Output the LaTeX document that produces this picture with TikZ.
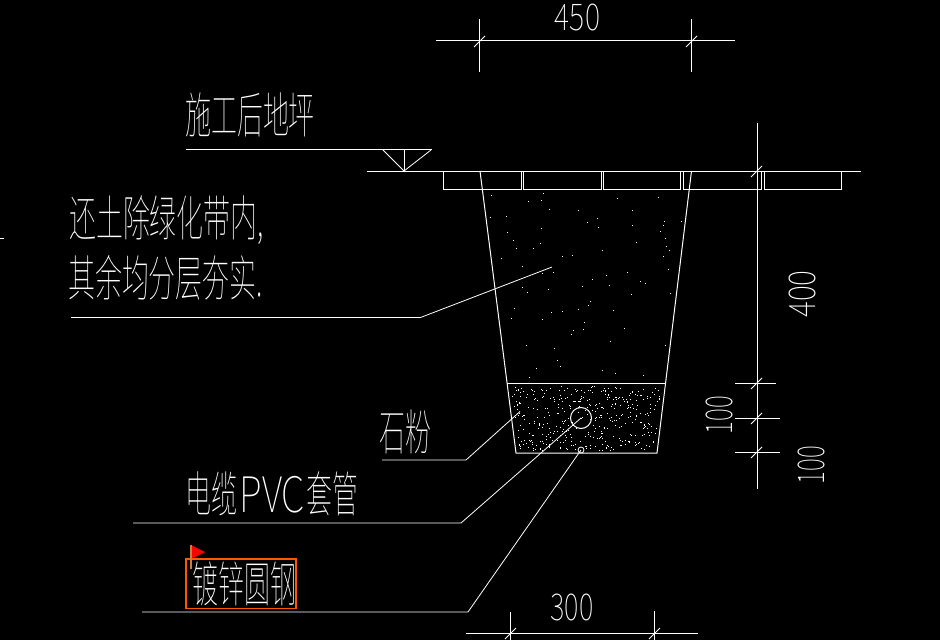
\documentclass[tikz,border=0pt]{standalone}
\usepackage{fontspec}
\newfontfamily\cadfont{Noto Sans CJK SC Thin}
\tikzset{
  x=1pt,y=-1pt,
  cadline/.style={draw=white,line width=1pt},
  soft/.style={draw=white,line width=0.8pt},
  cadtext/.style={text=white,inner sep=0pt,font=\cadfont\fontsize{49}{49}\selectfont,anchor=west},
  cadnum/.style={text=white,inner sep=0pt,font=\cadfont\fontsize{37}{37}\selectfont},
}
\begin{document}
\begin{tikzpicture}
\useasboundingbox (0,0) rectangle (940,640);
\fill[black] (0,0) rectangle (940,640);
% ground and bricks
\draw[cadline] (367,171) -- (861,171);
\foreach \a/\b in {443/521,523/601.5,603/680.5,683/761.5,764/841.5}
  \draw[cadline] (\a,171) rectangle (\b,189.5);
% trench
\coordinate (tl) at (480,171);
\coordinate (tr) at (691.5,171);
\coordinate (bl) at (516,453);
\coordinate (br) at (657,453);
\draw[cadline] (tl) -- (bl) -- (br) -- (tr);
\draw[cadline] (507,383) -- (665,383);
\node[circle,draw=white,line width=1pt,minimum size=21pt,inner sep=0pt] (pipe) at (581,418) {};
\node[circle,draw=white,line width=0.8pt,minimum size=6pt,inner sep=0pt] (rod) at (581,450) {};
% stipple
\pgfmathsetseed{4242}
\foreach \i in {1,...,400}{
  \pgfmathsetmacro{\yy}{386+rnd*64}
  \pgfmathsetmacro{\xl}{480+36*(\yy-171)/282+3}
  \pgfmathsetmacro{\xr}{691.5-34.5*(\yy-171)/282-3}
  \pgfmathsetmacro{\xx}{\xl+rnd*(\xr-\xl)}
  \fill[white] (\xx,\yy) rectangle ++(1,1);
}
\foreach \i in {1,...,75}{
  \pgfmathsetmacro{\yy}{191+rnd*188}
  \pgfmathsetmacro{\xl}{480+36*(\yy-171)/282+3}
  \pgfmathsetmacro{\xr}{691.5-34.5*(\yy-171)/282-3}
  \pgfmathsetmacro{\xx}{\xl+rnd*(\xr-\xl)}
  \fill[white] (\xx,\yy) rectangle ++(1,1);
}
% level mark
\draw[cadline] (186,149.5) -- (432,149.5);
\draw[soft] (383,150) -- (404,171) -- (431,150);
\draw[cadline] (404,150) -- (404,171);
% top dimension
\draw[cadline] (436,40) -- (735,40);
\draw[cadline] (479,19) -- (479,72);
\draw[cadline] (691,19) -- (691,72);
\draw[soft] (474,47) -- (485,36);
\draw[soft] (686,47) -- (697,36);
% vertical dimension
\draw[cadline] (757,123) -- (757,489);
\draw[cadline] (735,383) -- (776,383);
\draw[cadline] (735,418) -- (780,418);
\draw[cadline] (735,452) -- (780,452);
\foreach \y in {171,383,418,452}
  \draw[soft] (751,\y+6) -- (762,\y-5);
% bottom dimension
\draw[cadline] (466,633) -- (698,633);
\draw[cadline] (510,612) -- (510,640);
\draw[cadline] (654,611) -- (654,640);
\draw[soft] (505,639) -- (516,628);
\draw[soft] (649,639) -- (660,628);
% leaders
\coordinate (fillA) at (71,317.5);
\coordinate (fillB) at (420.5,317.5);
\coordinate (fillC) at (552,267);
\draw[soft] (fillA) -- (fillB) -- (fillC);
\coordinate (sandA) at (382,460);
\coordinate (sandB) at (466,460);
\coordinate (sandC) at (520,411.5);
\draw[soft] (sandA) -- (sandB) -- (sandC);
\coordinate (pvcA) at (133,523);
\coordinate (pvcB) at (461,523);
\draw[soft] (pvcA) -- (pvcB) -- (pipe.center);
\coordinate (rodA) at (142,612);
\coordinate (rodB) at (468,612);
\draw[soft] (rodA) -- (rodB) -- (rod.center);
% stray tick
\draw[cadline] (0,238) -- (4,238);
% labels
\node[cadtext,xscale=0.53] (t1) at (185,114.5) {施工后地坪};
\node[cadtext,xscale=0.55] (t2) at (69,220) {还土除绿化带内,};
\node[cadtext,xscale=0.55] (t3) at (68,278) {其余均分层夯实.};
\node[cadtext,xscale=0.53] (t4) at (379,432) {石粉};
\node[cadtext,xscale=0.53] (t5) at (185,493.5) {电缆\hspace{5pt}\scalebox{1.45}[1]{PVC}\hspace{3pt}套管};
\node[cadtext,xscale=0.53] (t6) at (192,583.5) {镀锌圆钢};
\node[cadnum,xscale=0.78] (d450) at (577.5,17) {450};
\node[cadnum,xscale=0.74] (d300) at (572,607) {300};
\node[cadnum,rotate=90,xscale=0.82] (d400) at (802,294) {400};
\node[cadnum,rotate=90,xscale=0.66] (d100a) at (719.5,415) {100};
\node[cadnum,rotate=90,xscale=0.66] (d100b) at (811,465) {100};
% selection marker
\draw[draw=orange!70!red,line width=1.7pt] (186,559) rectangle (296,608.5);
\fill[red] (191,545) -- (205,552) -- (191,559) -- cycle;
\draw[draw=brown!80!orange,line width=1.8pt] (191,545) -- (191,569);
\end{tikzpicture}
\end{document}
